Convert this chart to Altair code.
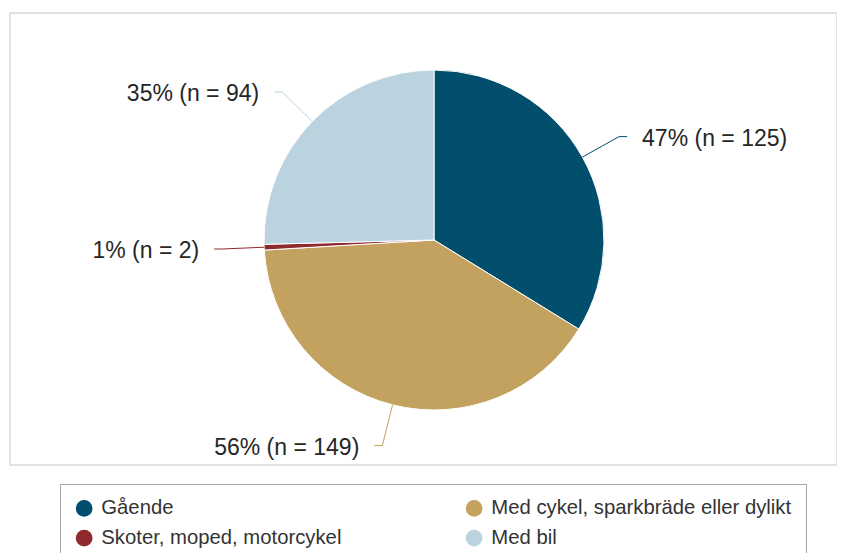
import altair as alt
import pandas as pd

categories = ["Gående", "Med cykel, sparkbräde eller dylikt", "Skoter, moped, motorcykel", "Med bil"]
counts = [125, 149, 2, 94]
percents = [47, 56, 1, 35]
colors = ["#024F6D", "#C2A25E", "#8E2A2D", "#BBD3DE"]

df = pd.DataFrame({
    "idx": list(range(len(categories))),
    "kategori": categories,
    "n": counts,
    "pct": percents,
})
df["label"] = [f"{p}% (n = {n})" for p, n in zip(percents, counts)]

CX, CY = 424, 227      # pie centre inside plot area
R = 170                # pie radius
R_ELBOW = 212          # leader elbow radius
HSEG = 8               # horizontal leader segment
GAP = 15               # gap between leader and label

color_scale = alt.Scale(domain=categories, range=colors)
FONT = "Liberation Sans"

base = alt.Chart(df)

pie = base.mark_arc(outerRadius=R, stroke="white", strokeWidth=1).encode(
    theta=alt.Theta("n:Q", stack=True),
    order=alt.Order("idx:Q"),
    color=alt.Color(
        "kategori:N", scale=color_scale, sort=categories,
        legend=alt.Legend(
            title=None, orient="none", legendX=50, legendY=471, columns=2,
            direction="horizontal",
            symbolType="circle", symbolSize=280, symbolStrokeWidth=0,
            labelFontSize=20.3, labelFont=FONT, labelColor="#333333",
            labelOffset=7, labelLimit=400, columnPadding=122, rowPadding=9,
            padding=14, strokeColor="#A6A6A6",
        ),
    ),
    x=alt.value(CX), y=alt.value(CY),
)

geo = base.transform_joinaggregate(total="sum(n)").transform_window(
    cum="sum(n)", sort=[alt.SortField("idx")], frame=[None, 0]
).transform_calculate(
    mid="(datum.cum - datum.n/2) / datum.total * 2 * PI",
).transform_calculate(
    side="sin(datum.mid) >= 0 ? 1 : -1",
    x0=f"{CX} + {R} * sin(datum.mid)",
    y0=f"{CY} - {R} * cos(datum.mid)",
    x1=f"{CX} + {R_ELBOW} * sin(datum.mid)",
    y1=f"{CY} - {R_ELBOW} * cos(datum.mid)",
).transform_calculate(
    x2=f"datum.x1 + datum.side * {HSEG}",
    xt=f"datum.x1 + datum.side * {HSEG + GAP}",
)

leader1 = geo.mark_rule(strokeWidth=1).encode(
    x=alt.X("x0:Q", scale=None), y=alt.Y("y0:Q", scale=None),
    x2="x1:Q", y2="y1:Q",
    color=alt.Color("kategori:N", scale=color_scale, legend=None),
)
leader2 = geo.mark_rule(strokeWidth=1).encode(
    x=alt.X("x1:Q", scale=None), y=alt.Y("y1:Q", scale=None),
    x2="x2:Q", y2="y1:Q",
    color=alt.Color("kategori:N", scale=color_scale, legend=None),
)

lab_right = geo.transform_filter("datum.side > 0").mark_text(
    align="left", baseline="middle", fontSize=23, font=FONT, color="#262626", dy=2
).encode(
    x=alt.X("xt:Q", scale=None), y=alt.Y("y1:Q", scale=None), text="label:N"
)
lab_left = geo.transform_filter("datum.side < 0").mark_text(
    align="right", baseline="middle", fontSize=23, font=FONT, color="#262626", dy=2
).encode(
    x=alt.X("xt:Q", scale=None), y=alt.Y("y1:Q", scale=None), text="label:N"
)

chart = alt.layer(pie, leader1, leader2, lab_right, lab_left).properties(
    width=827, height=452,
    autosize=alt.AutoSizeParams(type="none"),
    padding={"left": 2, "top": 5, "right": 0, "bottom": 88},
).configure_view(stroke="#D9D9D9", strokeWidth=1.5)

chart.save("out.html", embed_options={"renderer": "svg", "actions": False})
